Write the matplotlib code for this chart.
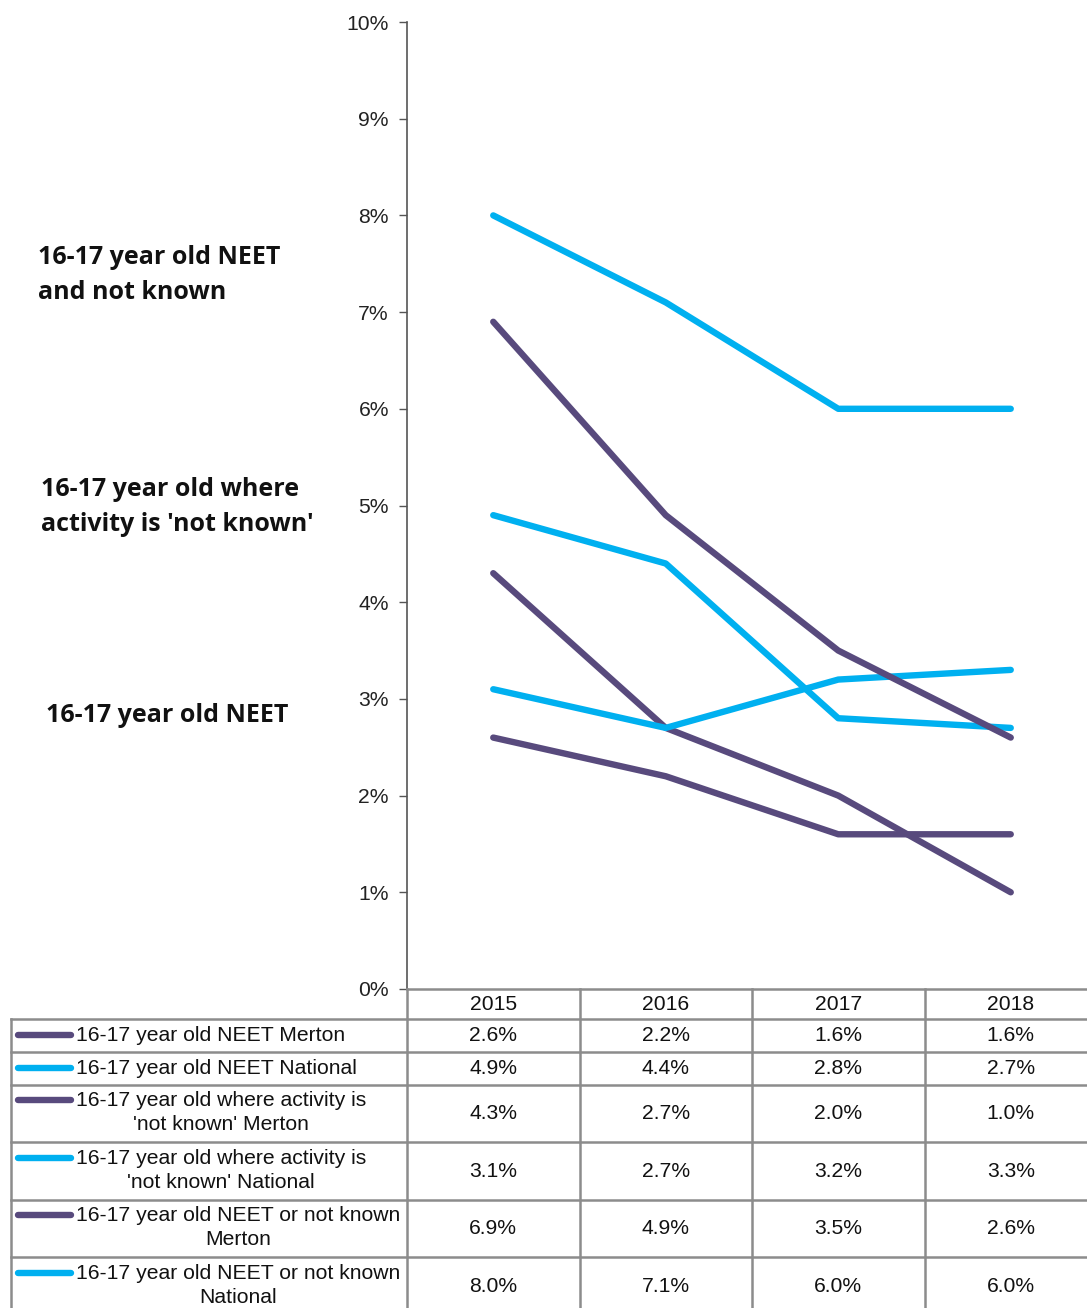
import matplotlib
matplotlib.use("Agg")
import matplotlib.pyplot as plt
from matplotlib.transforms import blended_transform_factory

years = ["2015", "2016", "2017", "2018"]
series_names = [
    "16-17 year old NEET Merton",
    "16-17 year old NEET National",
    "16-17 year old where activity is\n'not known' Merton",
    "16-17 year old where activity is\n'not known' National",
    "16-17 year old NEET or not known\nMerton",
    "16-17 year old NEET or not known\nNational",
]
neet_merton = [2.6, 2.2, 1.6, 1.6]
neet_national = [4.9, 4.4, 2.8, 2.7]
notknown_merton = [4.3, 2.7, 2.0, 1.0]
notknown_national = [3.1, 2.7, 3.2, 3.3]
both_merton = [6.9, 4.9, 3.5, 2.6]
both_national = [8.0, 7.1, 6.0, 6.0]
series_values = [neet_merton, neet_national, notknown_merton,
                 notknown_national, both_merton, both_national]
yticks = [0, 1, 2, 3, 4, 5, 6, 7, 8, 9, 10]
side_labels = ["16-17 year old NEET\nand not known",
               "16-17 year old where\nactivity is 'not known'",
               "16-17 year old NEET"]

PURPLE = "#584A7D"
CYAN = "#00B0F0"
colors = [PURPLE, CYAN, PURPLE, CYAN, PURPLE, CYAN]
GRID = "#8C8C8C"
FS = 15.2

W, H = 1087, 1308
plt.rcParams['font.family'] = ['Liberation Sans', 'DejaVu Sans']
fig = plt.figure(figsize=(W / 100, H / 100), dpi=100)

# main axes: x from 407 to 1097 px, y from 22 (10%) to 989 (0%)
ax = fig.add_axes([407 / W, 1 - 989 / H, 690 / W, (989 - 22) / H])
x = list(range(len(years)))
for vals, c in zip(series_values, colors):
    ax.plot(x, vals, color=c, lw=4.6, solid_capstyle='round', solid_joinstyle='round')
ax.set_xlim(-0.5, len(years) - 0.5)
ax.set_ylim(0, 10)
ax.set_yticks(yticks)
ax.set_yticklabels([f"{v}%" for v in yticks], fontsize=FS, color="#222222")
ax.tick_params(axis='y', length=6, width=1, color="#555555", pad=7, direction='out')
ax.set_xticks([])
for s in ['top', 'right', 'bottom']:
    ax.spines[s].set_visible(False)
ax.spines['left'].set_color("#555555")
ax.spines['left'].set_linewidth(1.2)

# side labels
label_pos = [(38, 275), (41, 507), (46, 715)]
for (lx, ly), t in zip(label_pos, side_labels):
    fig.text(lx / W, 1 - ly / H, t, ha='left', va='center', fontsize=18,
             fontweight='bold', family=['Open Sans', 'DejaVu Sans'],
             linespacing=1.55, color="#111111")

# data table
ax_t = fig.add_axes([0, 0, 1, (H - 989) / H])
ax_t.set_xlim(0, W)
ax_t.set_ylim(H, 989)
ax_t.axis('off')
trans = blended_transform_factory(ax.transData, ax_t.transData)

row_bounds = [989, 1019, 1052, 1085, 1142, 1200, 1257, 1315]
col_bounds = [407, 580, 752, 925, 1097]
lw_t = 1.8
ax_t.plot([407, W], [989, 989], color=GRID, lw=lw_t, clip_on=False)
for yb in row_bounds[1:-1]:
    ax_t.plot([11, W], [yb, yb], color=GRID, lw=lw_t, clip_on=False)
ax_t.plot([11, 11], [1019, H], color=GRID, lw=lw_t, clip_on=False)
for xb in col_bounds[:-1]:
    ax_t.plot([xb, xb], [989, H], color=GRID, lw=lw_t, clip_on=False)

# header
for i, yr in enumerate(years):
    ax_t.text(i, 1004, yr, transform=trans, ha='center', va='center', fontsize=FS, color="#111111")

# rows: (first line y, value y)
row_text_y = [(1035, 1035), (1068, 1068), (1100, 1113), (1158, 1171), (1215, 1228), (1273, 1286)]
for (fy, vy), name, vals, c in zip(row_text_y, series_names, series_values, colors):
    nlines = name.count("\n") + 1
    ax_t.plot([18, 71], [fy, fy], color=c, lw=4.6, solid_capstyle='round')
    ty = fy + (nlines - 1) * 12.5
    ax_t.text(76, ty, name, ha='left', va='center', fontsize=FS, color="#111111",
              multialignment='center', linespacing=1.36)
    for i, v in enumerate(vals):
        ax_t.text(i, vy, f"{v:.1f}%", transform=trans, ha='center', va='center',
                  fontsize=FS, color="#111111")

fig.savefig("out.png", dpi=100)
